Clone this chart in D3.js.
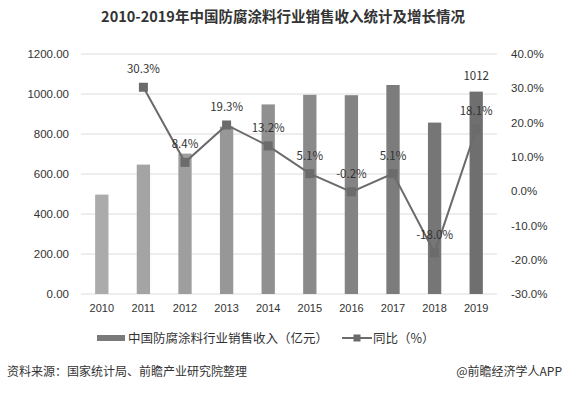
<!DOCTYPE html>
<html>
<head>
<meta charset="utf-8">
<script src="https://d3js.org/d3.v7.min.js"></script>
<style>
  body { margin: 0; background: #fff; }
  svg { display: block; font-family: "Microsoft YaHei", "Noto Sans CJK SC", sans-serif; }
</style>
</head>
<body>
<svg id="chart" width="567" height="393"></svg>
<script>
  var years = ["2010", "2011", "2012", "2013", "2014", "2015", "2016", "2017", "2018", "2019"];
  var revenue = [497, 647, 702, 837, 948, 996, 994, 1045, 857, 1012];
  var growth = [null, 30.3, 8.4, 19.3, 13.2, 5.1, -0.2, 5.1, -18.0, 18.1];
  var leftTicks = [0, 200, 400, 600, 800, 1000, 1200];
  var rightTicks = [-30, -20, -10, 0, 10, 20, 30, 40];

  var svg = d3.select("#chart"),
      margin = {top: 54, right: 70, bottom: 99, left: 81},
      width = 567 - margin.left - margin.right,
      height = 393 - margin.top - margin.bottom,
      g = svg.append("g").attr("transform", "translate(" + margin.left + "," + margin.top + ")");

  var x = d3.scaleBand().domain(years).range([0, width]).paddingInner(0.68).paddingOuter(0.34);
  var y = d3.scaleLinear().domain([0, 1200]).range([height, 0]);
  var y2 = d3.scaleLinear().domain([-30, 40]).range([height, 0]);
  var shade = d3.scaleLinear().domain([0, years.length - 1]).range(["#ababab", "#6f6f6f"]);

  // title
  svg.append("text")
      .attr("x", 283).attr("y", 22)
      .attr("text-anchor", "middle")
      .attr("font-size", 14.5)
      .attr("font-weight", "bold")
      .attr("fill", "#333")
      .text("2010-2019年中国防腐涂料行业销售收入统计及增长情况");

  // grid
  g.append("g").selectAll("line")
    .data(leftTicks).enter().append("line")
      .attr("x1", 0).attr("x2", width)
      .attr("y1", function(d) { return y(d); })
      .attr("y2", function(d) { return y(d); })
      .attr("stroke", "#dcdcdc").attr("stroke-width", 1);

  // left axis
  var ay = g.append("g")
      .call(d3.axisLeft(y).tickValues(leftTicks).tickFormat(d3.format(".2f")).tickSize(0).tickPadding(12));
  ay.select(".domain").remove();
  ay.selectAll("text").attr("font-size", 11.5).attr("fill", "#333");

  // right axis
  var ay2 = g.append("g")
      .attr("transform", "translate(" + width + ",0)")
      .call(d3.axisRight(y2).tickValues(rightTicks).tickFormat(function(d) { return d.toFixed(1) + "%"; }).tickSize(0).tickPadding(14));
  ay2.select(".domain").remove();
  ay2.selectAll("text").attr("font-size", 11.5).attr("fill", "#333");

  // bottom axis
  var ax = g.append("g")
      .attr("transform", "translate(0," + height + ")")
      .call(d3.axisBottom(x).tickSize(0).tickPadding(10));
  ax.select(".domain").remove();
  ax.selectAll("text").attr("font-size", 11).attr("fill", "#333");

  // bars
  g.append("g").selectAll("rect")
    .data(revenue).enter().append("rect")
      .attr("x", function(d, i) { return x(years[i]); })
      .attr("y", function(d) { return y(d); })
      .attr("width", x.bandwidth())
      .attr("height", function(d) { return height - y(d); })
      .attr("fill", function(d, i) { return shade(i); });

  // last bar value label
  g.append("text")
      .attr("x", x(years[9]) + x.bandwidth() / 2)
      .attr("y", y(revenue[9]) - 12)
      .attr("text-anchor", "middle")
      .attr("font-size", 11.5).attr("fill", "#333")
      .text(revenue[9]);

  // growth line
  var pts = years.map(function(yr, i) { return {year: yr, v: growth[i]}; }).filter(function(d) { return d.v !== null; });
  var cx = function(d) { return x(d.year) + x.bandwidth() / 2; };

  g.append("path")
      .datum(pts)
      .attr("fill", "none")
      .attr("stroke", "#6b6b6b")
      .attr("stroke-width", 2)
      .attr("d", d3.line().x(cx).y(function(d) { return y2(d.v); }));

  g.append("g").selectAll("rect")
    .data(pts).enter().append("rect")
      .attr("x", function(d) { return cx(d) - 4.5; })
      .attr("y", function(d) { return y2(d.v) - 4.5; })
      .attr("width", 9).attr("height", 9)
      .attr("fill", "#6b6b6b");

  g.append("g").selectAll("text")
    .data(pts).enter().append("text")
      .attr("x", cx)
      .attr("y", function(d) { return y2(d.v) - 14; })
      .attr("text-anchor", "middle")
      .attr("font-size", 11.5).attr("fill", "#333")
      .text(function(d) { return d.v.toFixed(1) + "%"; });

  // legend
  var lg = svg.append("g").attr("font-size", 12.5).attr("fill", "#333");
  lg.append("rect").attr("x", 97).attr("y", 335).attr("width", 28).attr("height", 6).attr("fill", "#7a7a7a");
  lg.append("text").attr("x", 128).attr("y", 342.5).text("中国防腐涂料行业销售收入（亿元）");
  lg.append("line").attr("x1", 342).attr("x2", 372).attr("y1", 338).attr("y2", 338).attr("stroke", "#6b6b6b").attr("stroke-width", 2);
  lg.append("rect").attr("x", 353.5).attr("y", 334.5).attr("width", 7).attr("height", 7).attr("fill", "#6b6b6b");
  lg.append("text").attr("x", 373).attr("y", 342.5).text("同比（%）");

  // footer
  svg.append("text").attr("x", 7).attr("y", 376).attr("font-size", 12).attr("fill", "#333")
      .text("资料来源：国家统计局、前瞻产业研究院整理");
  svg.append("text").attr("x", 562).attr("y", 376).attr("text-anchor", "end").attr("font-size", 12).attr("fill", "#333")
      .text("@前瞻经济学人APP");
</script>
</body>
</html>
